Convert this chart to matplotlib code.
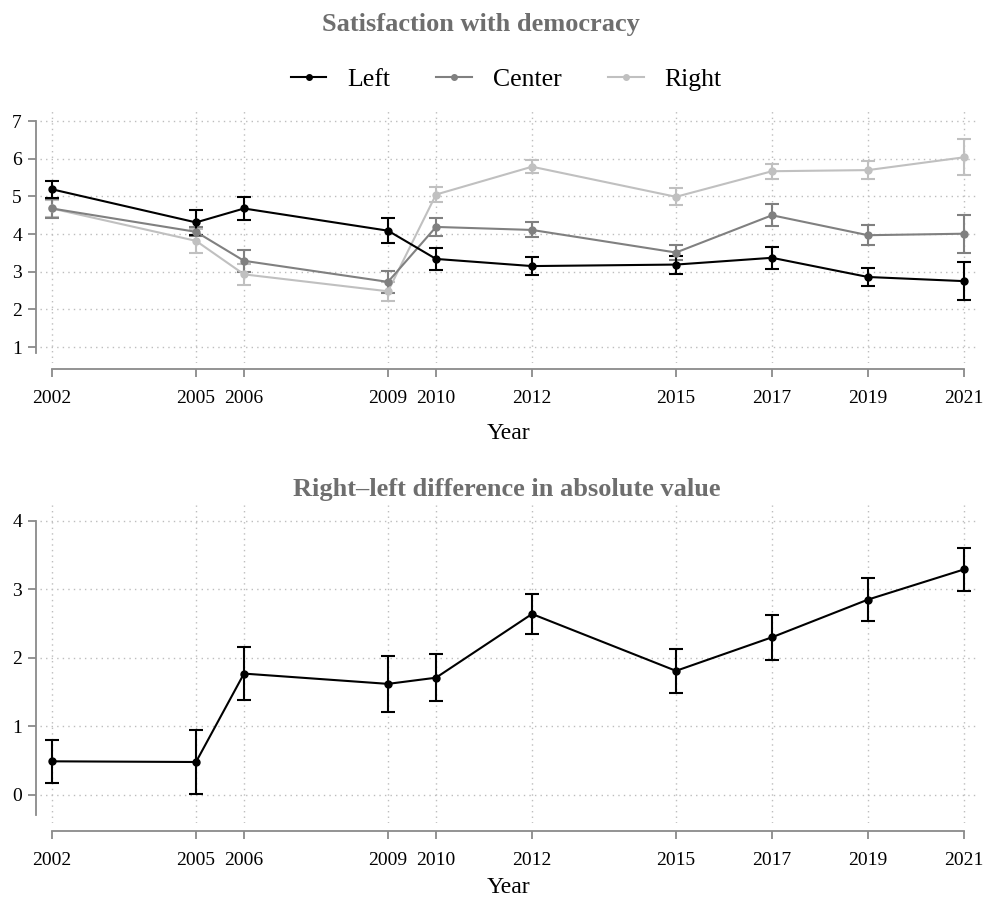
import numpy as np
import matplotlib
matplotlib.use("Agg")
import matplotlib.pyplot as plt
from matplotlib.lines import Line2D

plt.rcParams['font.family'] = ['Liberation Serif', 'DejaVu Serif']

years = [2002, 2005, 2006, 2009, 2010, 2012, 2015, 2017, 2019, 2021]

# mean satisfaction by self-placement, with 95% CI half-widths
left = [5.19, 4.31, 4.68, 4.09, 3.34, 3.15, 3.19, 3.37, 2.86, 2.75]
left_ci = [0.22, 0.33, 0.31, 0.34, 0.30, 0.25, 0.24, 0.30, 0.23, 0.50]
center = [4.68, 4.06, 3.29, 2.73, 4.19, 4.11, 3.51, 4.50, 3.97, 4.01]
center_ci = [0.24, 0.12, 0.29, 0.30, 0.23, 0.20, 0.20, 0.29, 0.26, 0.51]
right = [4.68, 3.82, 2.93, 2.48, 5.05, 5.79, 4.99, 5.67, 5.70, 6.04]
right_ci = [0.23, 0.32, 0.27, 0.26, 0.20, 0.18, 0.23, 0.20, 0.24, 0.48]

# |right - left| gap
diff = [0.49, 0.48, 1.77, 1.62, 1.71, 2.64, 1.81, 2.30, 2.85, 3.29]
diff_ci = [0.31, 0.47, 0.39, 0.41, 0.34, 0.29, 0.32, 0.33, 0.31, 0.31]

W, H = 986, 901
fig = plt.figure(figsize=(W / 100, H / 100), dpi=100)

def px_axes(x0, y0, x1, y1):
    return fig.add_axes([x0 / W, 1 - y1 / H, (x1 - x0) / W, (y1 - y0) / H])

spine_col = '#8a8a8a'
grid_col = '#bdbdbd'

def style(ax, ylim, ybounds, yticks, xoff, lpad):
    ax.set_xlim(2001.75, 2021.25)
    ax.set_ylim(*ylim)
    ax.set_xticks(years)
    ax.set_xticklabels([str(y) for y in years])
    ax.set_yticks(yticks)
    ax.set_yticklabels([str(t) for t in yticks])
    ax.grid(True, color=grid_col, linestyle=(0, (1, 3)), linewidth=1.0)
    ax.set_axisbelow(True)
    for s in ['top', 'right']:
        ax.spines[s].set_visible(False)
    ax.spines['left'].set_position(('outward', 3))
    ax.spines['bottom'].set_position(('outward', xoff))
    ax.spines['left'].set_bounds(*ybounds)
    ax.spines['bottom'].set_bounds(2002, 2021)
    for s in ['left', 'bottom']:
        ax.spines[s].set_color(spine_col)
        ax.spines[s].set_linewidth(1.3)
    ax.tick_params(axis='both', color=spine_col, width=1.3, length=6,
                   labelcolor='black', labelsize=14)
    ax.tick_params(axis='y', pad=4)
    ax.tick_params(axis='x', pad=9)
    ax.set_xlabel('Year', fontsize=17, labelpad=lpad)

# top panel
ax1 = px_axes(40, 111, 976, 363)
series = [(left, left_ci, 'black', 'Left'),
          (center, center_ci, '#808080', 'Center'),
          (right, right_ci, '#c0c0c0', 'Right')]
for vals, ci, col, lab in reversed(series):
    ax1.errorbar(years, vals, yerr=ci, color=col, marker='o', markersize=5,
                 linewidth=1.5, elinewidth=1.5, capsize=5, capthick=1.5)
style(ax1, (0.575, 7.27), (0.84, 7), [1, 2, 3, 4, 5, 6, 7], 4.3, 12)

handles = [Line2D([], [], color=col, marker='o', markersize=4, linewidth=1.5)
           for _, _, col, _ in series]
fig.legend(handles, [s[3] for s in series], loc='center',
           bbox_to_anchor=(506 / W, 1 - 80 / H), ncol=3, frameon=False,
           fontsize=18.5, handlelength=1.4, columnspacing=1.8, handletextpad=0.8)
fig.text(481 / W, 1 - 24 / H, 'Satisfaction with democracy', ha='center', va='center',
         fontsize=19, fontweight='bold', color='#6e6e6e')

# bottom panel
ax2 = px_axes(40, 505, 976, 823)
ax2.errorbar(years, diff, yerr=diff_ci, color='black', marker='o', markersize=5,
             linewidth=1.5, elinewidth=1.5, capsize=5, capthick=1.5)
style(ax2, (-0.41, 4.23), (-0.3, 4), [0, 1, 2, 3, 4], 5.8, 6)
fig.text(507 / W, 1 - 490 / H, 'Right\u2013left difference in absolute value', ha='center',
         va='center', fontsize=19, fontweight='bold', color='#6e6e6e')

fig.savefig('out.png', dpi=100)
